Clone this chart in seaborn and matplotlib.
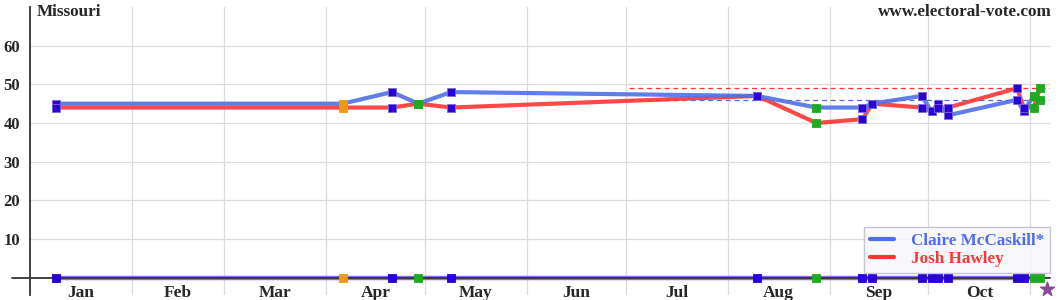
import matplotlib
matplotlib.use("Agg")
import matplotlib.pyplot as plt
import seaborn as sns
import pandas as pd
import numpy as np
from matplotlib.lines import Line2D

# ---- data ----
poll_dates = ["2018-01-09", "2018-04-06", "2018-04-21", "2018-04-29", "2018-05-09",
              "2018-08-10", "2018-08-28", "2018-09-11", "2018-09-14", "2018-09-29",
              "2018-10-02", "2018-10-04", "2018-10-07", "2018-10-28", "2018-10-30",
              "2018-11-02", "2018-11-04"]
mccaskill = [45, 45, 48, 45, 48, 47, 44, 44, 45, 47, 43, 45, 42, 46, 43, 47, 46]
hawley    = [44, 44, 44, 45, 44, 47, 40, 41, 45, 44, 43, 44, 44, 49, 44, 44, 49]
pollster_kind = ["blue", "orange", "blue", "green", "blue", "blue", "green", "blue", "blue",
                 "blue", "blue", "blue", "blue", "blue", "blue", "green", "green"]
current_dem = 46
current_rep = 49
current_from = "2018-07-02"
election_day = "2018-11-06"
month_labels = ["Jan", "Feb", "Mar", "Apr", "May", "Jun", "Jul", "Aug", "Sep", "Oct"]
y_ticks = [10, 20, 30, 40, 50, 60]

# ---- helpers ----
year_start = pd.Timestamp("2018-01-01")
def doy(s):
    return (pd.Timestamp(s) - year_start).days

days = [doy(d) for d in poll_dates]
month_starts = [doy(f"2018-{m:02d}-01") for m in range(1, 12)]
month_mids = [(month_starts[i] + month_starts[i + 1]) / 2 for i in range(10)]

DEM = "#4f6fe8"
REP = "#ff3535"
MARK = {"blue": "#2a00d8", "orange": "#ee9a10", "green": "#1faa22"}
SERIF = "Liberation Serif"

sns.set_theme(style="white")
plt.rcParams["font.family"] = [SERIF, "DejaVu Sans"]
plt.rcParams["font.weight"] = "bold"

fig = plt.figure(figsize=(10.6, 3.0), dpi=100)
ax = fig.add_axes([30 / 1060, 5 / 300, 1020 / 1060, 288 / 300])

df = pd.DataFrame({
    "day": days * 2,
    "pct": mccaskill + hawley,
    "cand": ["Claire McCaskill*"] * len(days) + ["Josh Hawley"] * len(days),
    "kind": pollster_kind * 2,
})

# grid
ax.set_xlim(0, 310)
ax.set_ylim(-4.48, 70)
ax.set_yticks(y_ticks)
ax.set_xticks(month_mids)
ax.set_xticklabels(month_labels)
ax.set_xticks(month_starts[1:], minor=True)
ax.grid(False)
ax.grid(True, axis="y", which="major", color="#dcdcdc", lw=0.9)
ax.grid(True, axis="x", which="minor", color="#dcdcdc", lw=0.9)
ax.set_axisbelow(True)

# current lines (dashed)
x0 = doy(current_from)
ax.plot([x0, 310], [current_rep, current_rep], color=REP, lw=0.9, ls=(0, (4, 3)), zorder=2)
ax.plot([x0, 310], [current_dem, current_dem], color=DEM, lw=0.9, ls=(0, (4, 3)), zorder=2)

# zero line series
zero = pd.DataFrame({"day": days, "pct": [0] * len(days)})
sns.lineplot(data=zero, x="day", y="pct", color="#8a6af0", lw=3.2, ax=ax, zorder=2, legend=False)
ax.plot([-0.018, 1.0], [0, 0], transform=ax.get_yaxis_transform(), color="#333333",
        lw=1.3, clip_on=False, zorder=3)

# candidate lines
sns.lineplot(data=df, x="day", y="pct", hue="cand",
             palette={"Claire McCaskill*": DEM, "Josh Hawley": REP},
             hue_order=["Josh Hawley", "Claire McCaskill*"],
             lw=3, ax=ax, zorder=4, sort=False, estimator=None, legend=False, alpha=0.9)

# markers
for k, col in MARK.items():
    sub = df[df["kind"] == k]
    sns.scatterplot(x=sub["day"], y=sub["pct"], color=col, marker="s", s=28,
                    edgecolor="#7a6ad8" if k == "blue" else col, linewidth=0.6, ax=ax, zorder=5, legend=False)
    z = zero[np.array(pollster_kind) == k]
    sns.scatterplot(x=z["day"], y=z["pct"], color=col, marker="s", s=28,
                    edgecolor=col, linewidth=0.6, ax=ax, zorder=5, legend=False)

ax.scatter([doy(election_day)], [-2.85], marker="*", s=110, color="#8a4a9a", zorder=6, clip_on=False)

# spines & ticks
for s in ["top", "right", "bottom"]:
    ax.spines[s].set_visible(False)
ax.spines["left"].set_color("#333333")
ax.spines["left"].set_linewidth(1.3)
ax.tick_params(axis="y", length=0, pad=7, labelsize=12)
ax.tick_params(axis="x", which="both", length=0, pad=-7.5, labelsize=12.5)
for lab in ax.get_xticklabels() + ax.get_yticklabels():
    lab.set_fontweight("bold")
    lab.set_fontfamily(SERIF)
ax.set_xlabel("")
ax.set_ylabel("")

# texts
fig.text(37 / 1060, 1 - 12 / 300, "Missouri", ha="left", va="center",
         fontsize=12.3, fontweight="bold", family=SERIF)
fig.text(1052 / 1060, 1 - 12 / 300, "www.electoral-vote.com", ha="right", va="center",
         fontsize=12.3, fontweight="bold", family=SERIF)

# legend
handles = [Line2D([0], [0], color=DEM, lw=3), Line2D([0], [0], color=REP, lw=3)]
leg = ax.legend(handles, ["Claire McCaskill*", "Josh Hawley"], loc="lower right",
                bbox_to_anchor=(1.0, (295 - 273) / 288), frameon=True, fancybox=False,
                prop={"family": SERIF, "weight": "bold", "size": 12.3},
                handlelength=1.4, borderpad=0.35, labelspacing=0.1, handletextpad=1.0,
                borderaxespad=0.0)
leg.get_frame().set_edgecolor("#b8b8c8")
leg.get_frame().set_facecolor("#f7f7fb")
leg.get_frame().set_linewidth(1.0)
for t, c in zip(leg.get_texts(), [DEM, REP]):
    t.set_color(c)
leg.set_zorder(7)

fig.savefig("out.png", dpi=100)
